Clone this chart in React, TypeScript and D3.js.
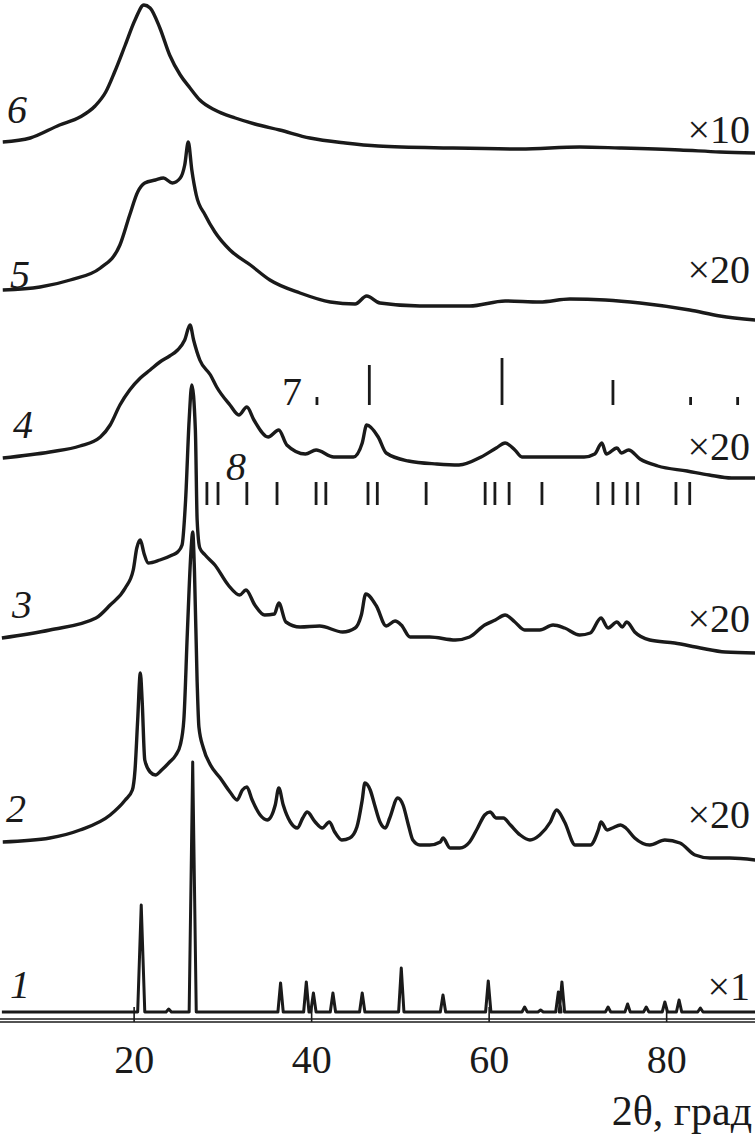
import React from 'react';
import * as d3 from 'd3';

const W = 755;
const H = 1137;

// 2θ ticks on the bottom axis
const xTicks = [20, 40, 60, 80];

// stacked traces, [2θ, intensity a.u.] (offset already included)
const curve6 = [
  [5.2, 870], [8.3, 874], [11.6, 887], [13.9, 895], [15.6, 906], [16.8, 920], [17.8, 940],
  [19.0, 967], [20.1, 992], [21.1, 1007], [21.8, 1004], [22.9, 984], [24.0, 957], [25.2, 937],
  [26.3, 924], [27.4, 912], [29.1, 902], [31.4, 894], [33.6, 888], [36.4, 882], [39.8, 874],
  [43.8, 869], [47.5, 866], [55.6, 864], [63.5, 863], [70.2, 865], [74.7, 864], [81.5, 862],
  [86.0, 860], [90.0, 859],
];

const curve5 = [
  [5.2, 722], [9.4, 725], [12.8, 732], [16.2, 744], [18.4, 767], [19.5, 797], [20.4, 820],
  [21.2, 829], [22.4, 832], [23.3, 834], [24.3, 829], [25.2, 834], [25.7, 847], [26.1, 870],
  [26.5, 842], [27.0, 817], [28.0, 797], [29.1, 780], [30.8, 762], [33.1, 747], [35.3, 732],
  [38.7, 719], [42.1, 710], [44.9, 708], [46.2, 716], [47.7, 709], [52.2, 706], [57.8, 706],
  [61.8, 711], [65.7, 710], [69.1, 713], [73.1, 712], [77.0, 709], [82.6, 702], [86.0, 696],
  [90.0, 692],
];

const curve4 = [
  [5.2, 554], [10.5, 560], [13.9, 566], [16.2, 575], [17.3, 587], [18.4, 607], [19.5, 622],
  [20.7, 634], [21.8, 642], [22.9, 650], [24.0, 656], [24.9, 662], [25.7, 672], [26.3, 687],
  [26.7, 672], [27.4, 652], [28.6, 637], [29.3, 625], [30.8, 607], [31.8, 597], [32.7, 605],
  [33.5, 592], [35.1, 575], [36.3, 582], [37.2, 567], [39.3, 558], [40.5, 562], [42.5, 555],
  [44.7, 555], [45.7, 569], [46.2, 587], [47.5, 575], [48.4, 559], [50.9, 551], [54.1, 548],
  [56.6, 547], [59.1, 555], [60.8, 564], [61.8, 569], [62.9, 562], [63.7, 555], [66.6, 555],
  [70.7, 555], [71.9, 558], [72.7, 569], [73.2, 558], [74.4, 564], [74.9, 559], [75.7, 562],
  [77.0, 553], [79.0, 546], [82.3, 541], [84.8, 537], [87.3, 534], [90.0, 534],
];

const curve3 = [
  [5.1, 374], [10.5, 382], [15.7, 394], [17.3, 407], [19.0, 424], [19.9, 442], [20.3, 464],
  [20.7, 472], [21.1, 459], [21.6, 449], [22.9, 452], [24.3, 457], [24.9, 460], [25.4, 467],
  [25.8, 512], [26.2, 592], [26.5, 627], [26.9, 582], [27.1, 492], [27.4, 464], [28.0, 457],
  [29.1, 447], [30.6, 427], [31.9, 417], [32.6, 422], [33.6, 407], [34.7, 397], [35.8, 398],
  [36.3, 409], [37.1, 390], [38.7, 385], [40.9, 386], [43.5, 380], [44.9, 384], [45.6, 397],
  [46.1, 418], [47.3, 406], [48.4, 386], [49.4, 391], [50.1, 387], [51.1, 375], [53.3, 375],
  [56.2, 372], [57.8, 375], [59.5, 387], [60.7, 392], [61.8, 397], [62.9, 390], [64.0, 382],
  [65.7, 382], [67.2, 387], [68.5, 384], [70.2, 377], [71.4, 379], [72.6, 394], [73.4, 384],
  [74.4, 390], [75.0, 385], [75.5, 390], [76.4, 380], [78.1, 372], [80.9, 369], [83.8, 364],
  [86.6, 360], [90.0, 359],
];

const curve2 = [
  [5.2, 170], [10.5, 174], [13.9, 182], [17.3, 197], [19.0, 212], [19.8, 222], [20.1, 242],
  [20.4, 292], [20.7, 339], [20.9, 312], [21.2, 252], [21.8, 240], [22.4, 237], [23.1, 242],
  [24.0, 250], [24.7, 257], [25.2, 267], [25.6, 292], [26.0, 380], [26.4, 460], [26.6, 480],
  [26.8, 440], [27.1, 330], [27.3, 285], [27.8, 264], [28.6, 247], [29.7, 234], [30.8, 220],
  [31.6, 212], [32.2, 222], [32.7, 225], [33.3, 212], [34.2, 197], [35.0, 192], [35.9, 207],
  [36.3, 224], [36.8, 207], [37.6, 190], [38.4, 184], [39.0, 194], [39.5, 200], [40.4, 190],
  [41.2, 184], [42.0, 190], [42.6, 180], [43.4, 172], [44.3, 174], [45.1, 185], [45.7, 212],
  [46.0, 229], [46.6, 222], [47.1, 207], [47.7, 190], [48.3, 184], [48.8, 194], [49.7, 214],
  [50.3, 207], [50.9, 187], [51.4, 172], [52.2, 167], [53.3, 167], [54.5, 170], [54.8, 174],
  [55.6, 164], [56.7, 164], [57.8, 170], [58.7, 184], [59.5, 197], [60.1, 200], [60.8, 194],
  [61.6, 194], [62.4, 187], [63.5, 177], [64.6, 172], [65.7, 177], [66.9, 190], [67.6, 202],
  [68.5, 190], [69.7, 167], [71.4, 167], [72.3, 182], [72.6, 190], [73.3, 182], [73.9, 184],
  [74.8, 187], [75.4, 184], [76.4, 174], [78.1, 167], [79.8, 172], [81.5, 169], [83.2, 157],
  [84.9, 154], [87.1, 154], [90.0, 152],
];

// curve 1: crystalline pattern, [2θ, peak height]
const peaks1 = [
  [20.8, 107], [23.9, 3], [26.6, 250], [36.5, 29], [39.4, 30], [40.2, 19], [42.4, 19],
  [45.7, 19], [50.1, 44], [54.8, 17], [59.9, 31], [64.0, 5], [65.8, 2], [67.8, 20],
  [68.2, 30], [73.4, 5], [75.6, 8], [77.7, 5], [79.8, 10], [81.4, 12], [83.8, 4],
];

// reference line patterns 7 and 8
const sticks7 = [[40.6, 8], [46.5, 40], [61.45, 47], [73.95, 25], [82.7, 8], [88.0, 8]];
const sticks8 = [
  28.2, 29.45, 32.7, 36.1, 40.5, 41.6, 46.35, 47.4, 52.9, 59.55, 60.65, 62.25, 65.95,
  72.25, 73.95, 75.55, 76.75, 81.05, 82.6,
];
const stick7Base = 607;
const stick8Base = 507;
const stick8Height = 23;

const curveNames = ['1', '2', '3', '4', '5', '6'];
const scaleNames = ['\u00d71', '\u00d720', '\u00d720', '\u00d720', '\u00d720', '\u00d710'];

// label layout (pixels)
const nameX = [10, 6, 12, 13, 10, 7];
const nameY = [998, 822, 618, 438, 288, 123];
const scaleY = [1000, 828, 632, 460, 283, 143];

const FONT = '"Liberation Serif", "Times New Roman", serif';
const INK = '#1a1a1a';

export default function App() {
  const x = d3.scaleLinear().domain([5, 90]).range([1, 755.4]);
  const y = d3.scaleLinear().domain([0, 1012]).range([1012, 0]);

  const line = d3
    .line<number[]>()
    .x((d) => x(d[0]))
    .y((d) => y(d[1]))
    .curve(d3.curveMonotoneX);

  // stick pattern for curve 1 (narrow triangular peaks on a flat baseline)
  const pts1: number[][] = [[5.1, 0]];
  peaks1.forEach(([t, h]) => {
    const hw = h > 60 ? 0.4 : 0.3;
    pts1.push([t - hw, 0], [t, h], [t + hw, 0]);
  });
  pts1.push([90, 0]);
  const line1 = d3
    .line<number[]>()
    .x((d) => x(d[0]))
    .y((d) => y(d[1]));

  const traces = [curve2, curve3, curve4, curve5, curve6];
  const axisY = 1019;

  return (
    <svg
      width={W}
      height={H}
      style={{ position: 'absolute', left: 0, top: 0, background: '#fff' }}
      fontFamily={FONT}
    >
      <rect width={W} height={H} fill="#fff" />

      {/* axis: double bottom line with inner ticks */}
      <line x1={0} x2={W} y1={axisY} y2={axisY} stroke={INK} strokeWidth={1.4} />
      <line x1={0} x2={W} y1={axisY + 3} y2={axisY + 3} stroke={INK} strokeWidth={1.4} />
      {xTicks.map((t) => (
        <g key={t}>
          <line x1={x(t)} x2={x(t)} y1={axisY - 12} y2={axisY + 3} stroke={INK} strokeWidth={1.6} />
          <text x={x(t)} y={1073} textAnchor="middle" fontSize={40} fill={INK}>
            {t}
          </text>
        </g>
      ))}
      <text x={752} y={1125} textAnchor="end" fontSize={42} fill={INK}>
        2θ, град
      </text>

      {/* curve 1 */}
      <path d={line1(pts1) || ''} fill="none" stroke={INK} strokeWidth={3} strokeLinejoin="round" />

      {/* curves 2..6 */}
      {traces.map((c, i) => (
        <path
          key={i}
          d={line(c) || ''}
          fill="none"
          stroke={INK}
          strokeWidth={3.4}
          strokeLinejoin="round"
        />
      ))}

      {/* reference patterns */}
      {sticks7.map(([t, h], i) => (
        <line
          key={'s7' + i}
          x1={x(t)}
          x2={x(t)}
          y1={y(stick7Base)}
          y2={y(stick7Base + h)}
          stroke={INK}
          strokeWidth={2.8}
        />
      ))}
      {sticks8.map((t, i) => (
        <line
          key={'s8' + i}
          x1={x(t)}
          x2={x(t)}
          y1={y(stick8Base)}
          y2={y(stick8Base + stick8Height)}
          stroke={INK}
          strokeWidth={2.8}
        />
      ))}
      <text x={282} y={405} fontSize={40} fill={INK}>
        7
      </text>
      <text x={226} y={480} fontSize={40} fontStyle="italic" fill={INK}>
        8
      </text>

      {/* curve numbers and scale factors */}
      {curveNames.map((n, i) => (
        <text key={'n' + n} x={nameX[i]} y={nameY[i]} fontSize={40} fontStyle="italic" fill={INK}>
          {n}
        </text>
      ))}
      {scaleNames.map((s, i) => (
        <text key={'k' + i} x={750} y={scaleY[i]} textAnchor="end" fontSize={40} fill={INK}>
          {s}
        </text>
      ))}
    </svg>
  );
}
